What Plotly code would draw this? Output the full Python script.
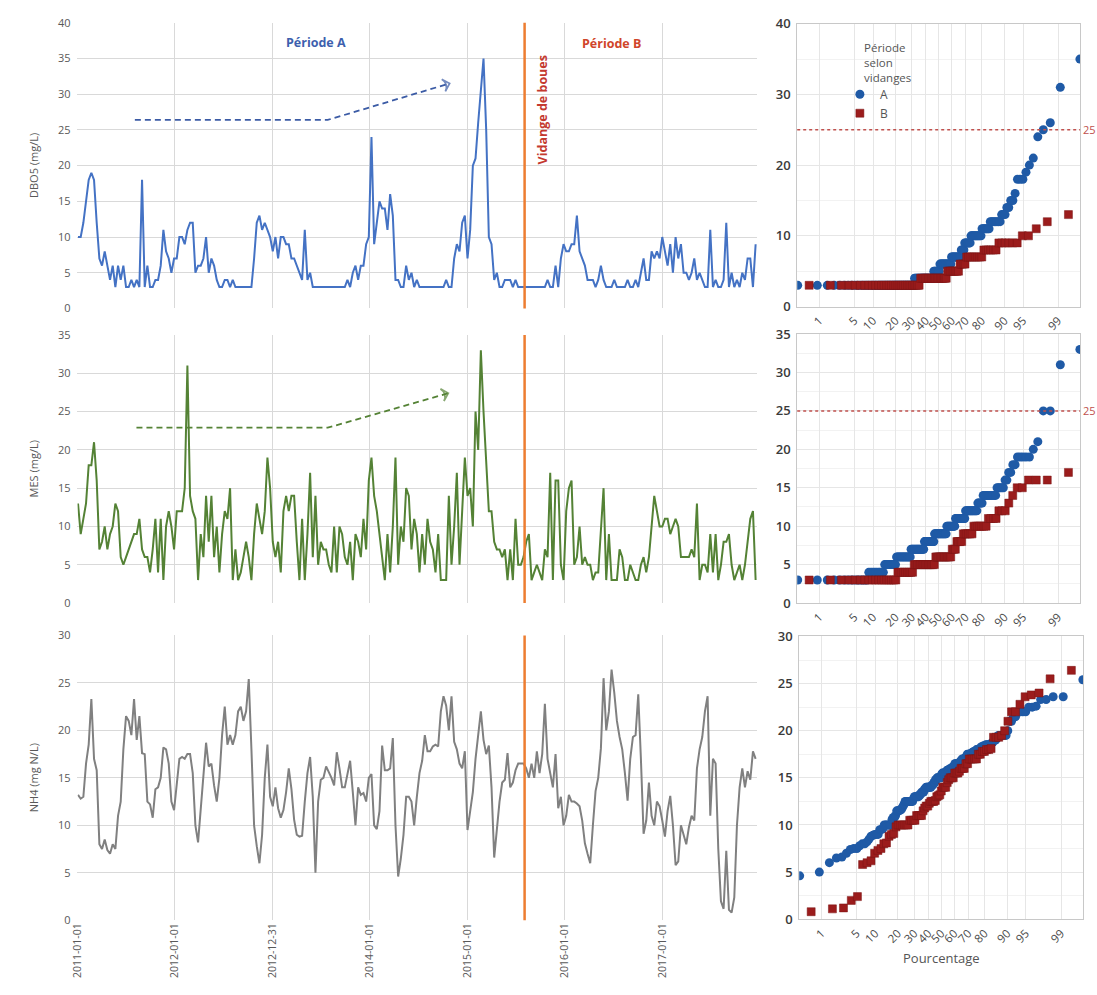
import plotly.graph_objects as go
import pandas as pd
from statistics import NormalDist

# ---------------- data ----------------
start_date = "2011-01-03"
step = "10D"
vidange_date = "2015-08-04"

dbo5 = [10, 10, 12, 15, 18, 19, 18, 12, 7, 6,
        8, 6, 4, 6, 3, 6, 4, 6, 3, 3,
        4, 3, 4, 3, 18, 3, 6, 3, 3, 4,
        4, 6, 11, 8, 7, 5, 7, 7, 10, 10,
        9, 11, 12, 12, 5, 6, 6, 7, 10, 5,
        7, 6, 4, 3, 3, 4, 4, 3, 4, 3,
        3, 3, 3, 3, 3, 3, 7, 12, 13, 11,
        12, 11, 10, 8, 10, 7, 10, 10, 9, 9,
        7, 7, 6, 5, 4, 11, 4, 5, 3, 3,
        3, 3, 3, 3, 3, 3, 3, 3, 3, 3,
        3, 4, 3, 5, 6, 4, 6, 6, 9, 10,
        24, 9, 12, 15, 14, 14, 11, 16, 13, 4,
        4, 3, 3, 6, 4, 5, 3, 4, 3, 3,
        3, 3, 3, 3, 3, 3, 3, 3, 4, 3,
        3, 7, 9, 8, 12, 13, 7, 11, 20, 21,
        26, 31, 35, 25, 10, 9, 4, 5, 3, 3,
        4, 4, 4, 3, 4, 3, 3, 3,
        3, 3, 3, 3, 3, 3, 3, 3, 4, 3,
        3, 6, 3, 7, 9, 8, 8, 9, 9, 13,
        8, 7, 6, 4, 4, 4, 3, 4, 6, 4,
        3, 3, 3, 4, 3, 3, 3, 3, 4, 3,
        3, 4, 3, 5, 7, 4, 4, 8, 7, 8,
        7, 10, 8, 6, 9, 5, 10, 7, 9, 5,
        5, 4, 5, 7, 4, 5, 4, 3, 3, 11,
        3, 4, 3, 3, 4, 12, 3, 5, 3, 4,
        3, 5, 4, 7, 7, 3, 9]

mes = [13, 9, 11, 13, 18, 18, 21, 16, 7, 8,
       10, 7, 9, 10, 13, 12, 6, 5, 6, 7,
       8, 9, 9, 11, 7, 6, 6, 4, 7, 11,
       4, 11, 3, 10, 12, 10, 7, 12, 12, 12,
       15, 31, 14, 12, 11, 3, 9, 6, 14, 8,
       14, 6, 10, 4, 9, 12, 11, 15, 3, 7,
       3, 4, 6, 8, 6, 3, 9, 13, 11, 9,
       12, 19, 15, 8, 6, 8, 4, 12, 14, 12,
       14, 14, 8, 3, 11, 3, 9, 17, 6, 14,
       5, 8, 7, 7, 5, 4, 10, 4, 10, 9,
       6, 5, 8, 3, 9, 8, 6, 11, 7, 16,
       19, 14, 12, 9, 6, 3, 9, 4, 10, 19,
       5, 10, 8, 15, 14, 7, 11, 9, 4, 9,
       5, 11, 8, 7, 4, 9, 3, 3, 3, 14,
       5, 10, 17, 5, 13, 19, 14, 15, 10, 25,
       20, 33, 25, 19, 12, 12, 8, 7, 7, 6,
       7, 3, 7, 3, 11, 5, 5, 6,
       8, 9, 3, 4, 5, 4, 3, 7, 6, 17,
       3, 16, 16, 5, 3, 12, 15, 16, 5, 6,
       10, 5, 6, 5, 5, 3, 4, 4, 10, 15,
       3, 9, 3, 3, 3, 7, 6, 3, 3, 5,
       4, 3, 3, 5, 6, 4, 6, 10, 14, 12,
       10, 10, 11, 11, 9, 10, 11, 10, 6, 6,
       6, 6, 7, 6, 13, 3, 5, 5, 4, 9,
       4, 9, 3, 5, 8, 8, 9, 5, 3, 4,
       5, 3, 5, 8, 11, 12, 3]

nh4 = [13.2, 12.8, 13.0, 16.5, 18.5, 23.3, 17.0, 15.8, 8.0, 7.5,
       8.5, 7.4, 7.0, 8.0, 7.5, 11.0, 12.5, 18.0, 21.5, 21.0,
       19.5, 23.3, 19.0, 21.5, 17.6, 17.5, 12.5, 12.2, 10.8, 13.8,
       14.0, 15.0, 18.2, 18.0, 16.5, 12.5, 11.6, 14.3, 17.0, 17.2,
       17.0, 17.5, 17.5, 15.5, 10.0, 8.2, 11.5, 15.5, 18.7, 16.2,
       16.5, 14.2, 12.5, 15.0, 19.5, 22.5, 18.5, 19.5, 18.5, 19.5,
       22.0, 22.5, 21.0, 22.0, 25.4, 18.0, 10.0, 7.8, 6.0, 9.0,
       15.0, 18.5, 13.0, 12.0, 14.0, 11.8, 10.8, 11.6, 13.5, 16.0,
       13.8, 10.6, 9.0, 8.8, 8.9, 12.5, 15.5, 17.2, 13.0, 5.0,
       12.5, 14.8, 15.0, 16.2, 15.6, 15.0, 14.2, 17.7, 16.0, 14.0,
       14.0, 15.5, 16.8, 13.5, 10.0, 14.0, 13.2, 13.4, 12.5, 15.0,
       15.4, 10.0, 9.6, 11.5, 18.4, 15.8, 15.8, 16.0, 19.2, 10.0,
       4.6, 6.5, 9.0, 13.0, 13.0, 12.5, 10.0, 13.0, 15.5, 16.8,
       19.5, 17.8, 17.8, 18.3, 18.5, 18.3, 22.0, 23.6, 22.6, 20.0,
       23.6, 18.8, 18.0, 16.5, 16.0, 17.8, 9.5, 11.5, 13.5, 17.0,
       19.5, 22.0, 19.0, 17.5, 18.4, 14.0, 6.6, 9.5, 12.5, 14.5,
       14.8, 17.6, 14.0, 14.5, 15.8, 16.5, 16.5, 16.5,
       16.0, 15.0, 16.5, 15.0, 17.8, 15.5, 17.5, 22.8, 17.0, 15.5,
       14.0, 17.5, 11.8, 13.0, 10.0, 11.0, 13.2, 12.5, 12.5, 12.3,
       12.0, 10.5, 8.1, 7.0, 6.0, 10.0, 13.6, 15.0, 18.1, 25.5,
       20.0, 22.0, 26.4, 24.0, 21.0, 19.3, 18.0, 15.5, 12.6, 17.0,
       19.3, 19.5, 23.8, 17.0, 9.1, 10.5, 14.5, 11.0, 10.0, 12.5,
       12.0, 10.5, 8.8, 11.5, 13.1, 10.0, 5.8, 6.2, 10.0, 9.0,
       8.0, 9.8, 11.0, 10.5, 16.0, 18.0, 19.3, 22.0, 23.6, 11.0,
       17.0, 16.5, 7.5, 2.0, 1.2, 7.3, 1.1, 0.8, 2.4, 10.0,
       14.0, 16.0, 14.0, 15.7, 14.8, 17.8, 17.0]

date_ticks = ["2011-01-01", "2012-01-01", "2012-12-31", "2014-01-01",
              "2015-01-01", "2016-01-01", "2017-01-01"]
pct_ticks = [1, 5, 10, 20, 30, 40, 50, 60, 70, 80, 90, 95, 99]
seuil = 25

arrow_dbo5_x = ["2011-08-04", "2013-07-27", "2014-10-27"]
arrow_dbo5_y = [26.4, 26.4, 31.5]
arrow_mes_x = ["2011-08-10", "2013-07-27", "2014-10-22"]
arrow_mes_y = [22.9, 22.9, 27.4]

# ---------------- helpers ----------------
dates = pd.date_range(start_date, periods=len(dbo5), freq=step)
is_A = [d < pd.Timestamp(vidange_date) for d in dates]
nd = NormalDist()
tick_z = [nd.inv_cdf(p / 100) for p in pct_ticks]


def prob_points(vals, period_a):
    v = sorted(x for x, m in zip(vals, is_A) if m == period_a)
    n = len(v)
    return [nd.inv_cdf((i + 0.5) / n) for i in range(n)], v


FONT = "Open Sans"
GRID = "#d9d9d9"
TXT = "#595959"
BLUE_A = "#1f5aa6"
RED_B = "#9b1c1c"
ORANGE = "#ED7D31"

W, H = 1097, 995
def px_x(a, b):
    return [a / W, b / W]
def px_y(top, bottom):
    return [1 - bottom / H, 1 - top / H]

fig = go.Figure()

series = [
    ("DBO5 (mg/L)", dbo5, "#4472C4", [0, 40], 5, 10, 5, px_y(14, 305), px_y(15, 303)),
    ("MES (mg/L)", mes, "#548235", [0, 35], 5, 5, 2.5, px_y(332, 605), px_y(331, 605)),
    ("NH4 (mg N/L)", nh4, "#808080", [0, 30], 5, 5, 2.5, px_y(638, 928), px_y(639, 927)),
]

layout = dict(
    width=W, height=H, margin=dict(l=0, r=0, t=0, b=0),
    paper_bgcolor="white", plot_bgcolor="white",
    font=dict(family=FONT, color=TXT),
    showlegend=True,
    legend=dict(x=838 / W, y=1 - 72 / H, xanchor="left", yanchor="top",
                bgcolor="rgba(0,0,0,0)", font=dict(size=12, color="#555555"),
                tracegroupgap=0, itemwidth=30),
)
shapes = []
annotations = []

for i, (label, vals, col, yr, ldt, rdt, rminor, ydom_l, ydom_r) in enumerate(series):
    lx = "x" if i == 0 else f"x{2 * i + 1}"
    ly = "y" if i == 0 else f"y{2 * i + 1}"
    rx = f"x{2 * i + 2}"
    ry = f"y{2 * i + 2}"
    lkey_x = "xaxis" if i == 0 else f"xaxis{2 * i + 1}"
    lkey_y = "yaxis" if i == 0 else f"yaxis{2 * i + 1}"

    fig.add_trace(go.Scatter(x=dates, y=vals, mode="lines",
                             line=dict(color=col, width=2),
                             xaxis=lx, yaxis=ly, showlegend=False, hoverinfo="skip"))

    zA, vA = prob_points(vals, True)
    zB, vB = prob_points(vals, False)
    fig.add_trace(go.Scatter(x=zA, y=vA, mode="markers", name="A", legendgroup="A",
                             showlegend=(i == 0),
                             marker=dict(symbol="circle", size=9, color=BLUE_A),
                             xaxis=rx, yaxis=ry))
    fig.add_trace(go.Scatter(x=zB, y=vB, mode="markers", name="B", legendgroup="B",
                             showlegend=(i == 0),
                             marker=dict(symbol="square", size=8, color=RED_B,
                                         line=dict(color="#7a1414", width=0.5)),
                             xaxis=rx, yaxis=ry))

    layout[lkey_x] = dict(domain=px_x(70, 755), anchor=ly, type="date",
                          range=["2011-01-01", "2017-12-24"],
                          tickmode="array", tickvals=date_ticks, ticktext=date_ticks,
                          showticklabels=(i == 2), tickangle=-90,
                          tickfont=dict(size=10.5, color=TXT),
                          showgrid=True, gridcolor=GRID, gridwidth=1,
                          zeroline=False, showline=False, ticks="")
    layout[lkey_y] = dict(domain=ydom_l, anchor=lx, range=yr, dtick=ldt,
                          tickfont=dict(size=11, color=TXT), ticklabelstandoff=6,
                          showgrid=True, gridcolor=GRID, gridwidth=1,
                          zeroline=False, showline=False, ticks="")

    xd = px_x(795, 1080) if i < 2 else px_x(797, 1083)
    layout[f"xaxis{2 * i + 2}"] = dict(domain=xd, anchor=ry, range=[-2.76, 2.755],
                                       tickmode="array", tickvals=tick_z,
                                       ticktext=[str(p) for p in pct_ticks],
                                       tickangle=-45, ticklabelstandoff=2,
                                       tickfont=dict(size=11.5, color="#4a4a4a"),
                                       showgrid=True, gridcolor="#e6e6e6",
                                       zeroline=False, showline=True, mirror=True,
                                       linecolor="#c8c8c8", linewidth=1, ticks="")
    layout[f"yaxis{2 * i + 2}"] = dict(domain=ydom_r, anchor=rx, range=yr, dtick=rdt,
                                       tickfont=dict(size=13, color="#3a3a3a", weight=600),
                                       ticklabelstandoff=3,
                                       showgrid=True, gridcolor="#e6e6e6",
                                       minor=dict(dtick=rminor, showgrid=True,
                                                  gridcolor="#f2f2f2"),
                                       zeroline=False, showline=True, mirror=True,
                                       linecolor="#c8c8c8", linewidth=1, ticks="")

    # vidange vertical line
    shapes.append(dict(type="line", xref=lx, yref=f"{ly} domain",
                       x0=vidange_date, x1=vidange_date, y0=0, y1=1,
                       line=dict(color=ORANGE, width=2.5)))
    # left axis titles
    annotations.append(dict(text=label, xref="paper", yref=f"{ly} domain",
                            x=16 / W, y=0.5, textangle=-90, showarrow=False,
                            font=dict(size=11, color=TXT)))
    if i < 2:
        shapes.append(dict(type="line", xref=f"{rx} domain", yref=ry,
                           x0=0, x1=1, y0=seuil, y1=seuil,
                           line=dict(color="#c0504d", width=1.5, dash="dot")))
        annotations.append(dict(text=str(seuil), xref="paper", yref=ry,
                                x=1081 / W, y=seuil, xanchor="left", showarrow=False,
                                font=dict(size=11, color="#c0504d")))

# trend arrows
for (ax_, ay_, col, xr, yr_) in [(arrow_dbo5_x, arrow_dbo5_y, "#3b5ba5", "x", "y"),
                                 (arrow_mes_x, arrow_mes_y, "#548235", "x3", "y3")]:
    fig.add_trace(go.Scatter(x=ax_, y=ay_, mode="lines+markers",
                             line=dict(color=col, width=1.8, dash="6px,4px"),
                             marker=dict(symbol=["circle", "circle", "arrow-wide-open"],
                                         size=[0, 0, 9], color=col, angleref="previous",
                                         line=dict(color=col, width=1.8)),
                             xaxis=xr, yaxis=yr_, showlegend=False, hoverinfo="skip"))

annotations += [
    dict(text="Période<br>selon<br>vidanges", xref="paper", yref="paper",
         x=860 / W, y=1 - 30 / H, xanchor="left", yanchor="top", align="left",
         showarrow=False, font=dict(size=11.5, color="#555555")),
    dict(text="<b>Période A</b>", xref="x", yref="y", x="2013-06-12", y=37.3,
         showarrow=False, font=dict(size=12.5, color="#3d5fae")),
    dict(text="<b>Période B</b>", xref="x", yref="y", x="2016-06-25", y=37.1,
         showarrow=False, font=dict(size=12.5, color="#d0452a")),
    dict(text="<b>Vidange de boues</b>", xref="x", yref="y", x="2015-10-10", y=27.8,
         textangle=-90, showarrow=False, font=dict(size=12.5, color="#c4392f")),
    dict(text="Pourcentage", xref="x6 domain", yref="paper", x=0.5, y=1 - 966 / H,
         yanchor="middle", showarrow=False, font=dict(size=13, color="#555555")),
]

layout["shapes"] = shapes
layout["annotations"] = annotations
fig.update_layout(**layout)
fig.write_html("out.html")
